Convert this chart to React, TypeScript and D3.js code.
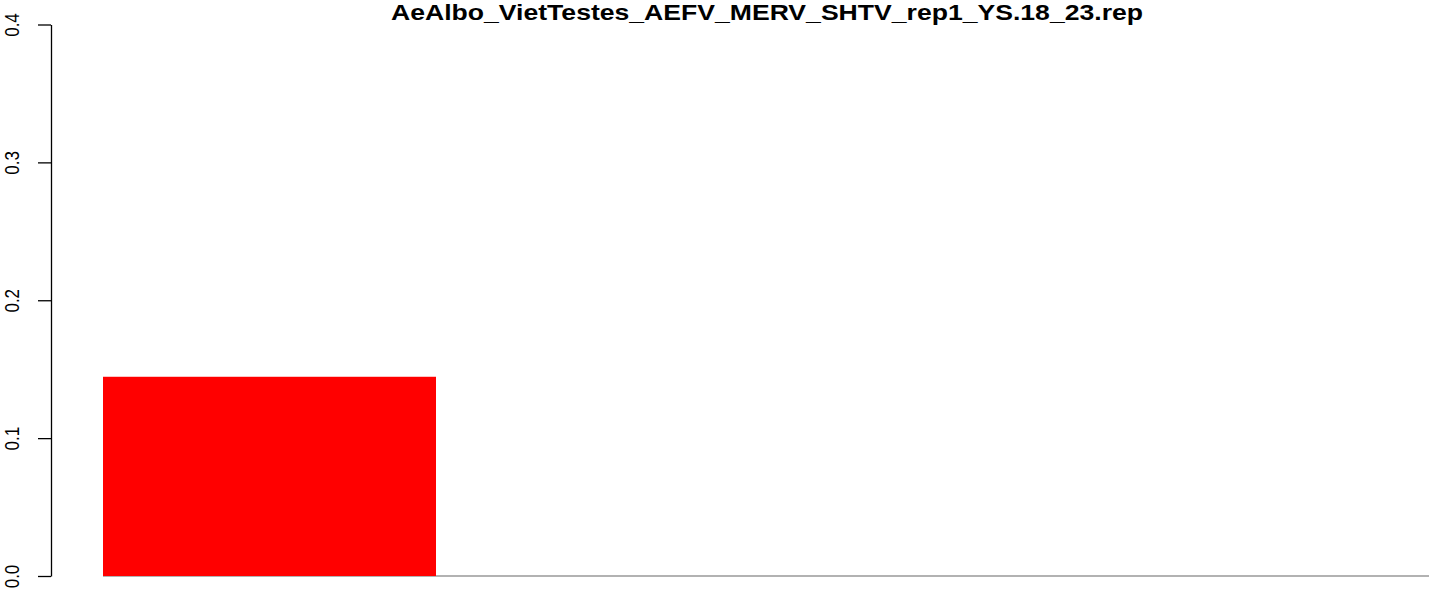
import { useEffect, useRef } from "react";
import * as d3 from "d3";

const WIDTH = 1429;
const HEIGHT = 590;

const TITLE = "AeAlbo_VietTestes_AEFV_MERV_SHTV_rep1_YS.18_23.rep";
const categories = ["c1", "c2", "c3", "c4"];
const values = [0.1445, 0, 0, 0];
const yTicks = [0, 0.1, 0.2, 0.3, 0.4];

// the reference looks stretched sideways a bit
const X_STRETCH = 1.17;

export default function App() {
    const axisRef = useRef<SVGGElement | null>(null);

    // scales
    const xScale = d3.scaleBand<string>()
        .domain(categories)
        .range([103, 103 + 333 * categories.length])
        .padding(0);
    const yScale = d3.scaleLinear().domain([0, 0.4]).range([576, 24.5]);

    useEffect(() => {
        const g = d3.select(axisRef.current);
        g.selectAll("*").remove();
        const axis = d3.axisLeft(yScale)
            .tickValues(yTicks)
            .tickFormat(d3.format(".1f"))
            .tickSize(13)
            .tickSizeOuter(0);
        const ax = g.append("g").attr("transform", "translate(51,0)").call(axis);
        ax.select(".domain").attr("stroke", "#000").attr("stroke-width", 1.3);
        ax.selectAll(".tick line").attr("stroke", "#000").attr("stroke-width", 1.3);
        ax.selectAll<SVGTextElement, number>(".tick text")
            .attr("transform", `translate(-32,0) scale(${X_STRETCH},1) rotate(-90)`)
            .attr("x", 0)
            .attr("y", 0)
            .attr("dy", "0")
            .attr("text-anchor", "middle")
            .attr("font-family", "Liberation Sans, Arial, sans-serif")
            .attr("font-size", 17)
            .attr("fill", "#000");
    }, []);

    return (
        <svg width={WIDTH} height={HEIGHT} style={{ position: "absolute", left: 0, top: 0, background: "#fff" }}>
            <text x={767} y={19.5} textAnchor="middle" fontFamily="Liberation Sans, Arial, sans-serif"
                fontWeight="bold" fontSize={21.5} textLength={752} lengthAdjust="spacingAndGlyphs"
                fill="#000">{TITLE}</text>
            <line x1={xScale(categories[0])} x2={WIDTH} y1={yScale(0)} y2={yScale(0)} stroke="#666" strokeWidth={1.2} />
            {categories.map((c, i) => (
                values[i] > 0 ? (
                    <rect key={c} x={xScale(c)} y={yScale(values[i])} width={xScale.bandwidth()}
                        height={yScale(0) - yScale(values[i])} fill="#ff0000" />
                ) : null
            ))}
            <g ref={axisRef} />
        </svg>
    );
}
